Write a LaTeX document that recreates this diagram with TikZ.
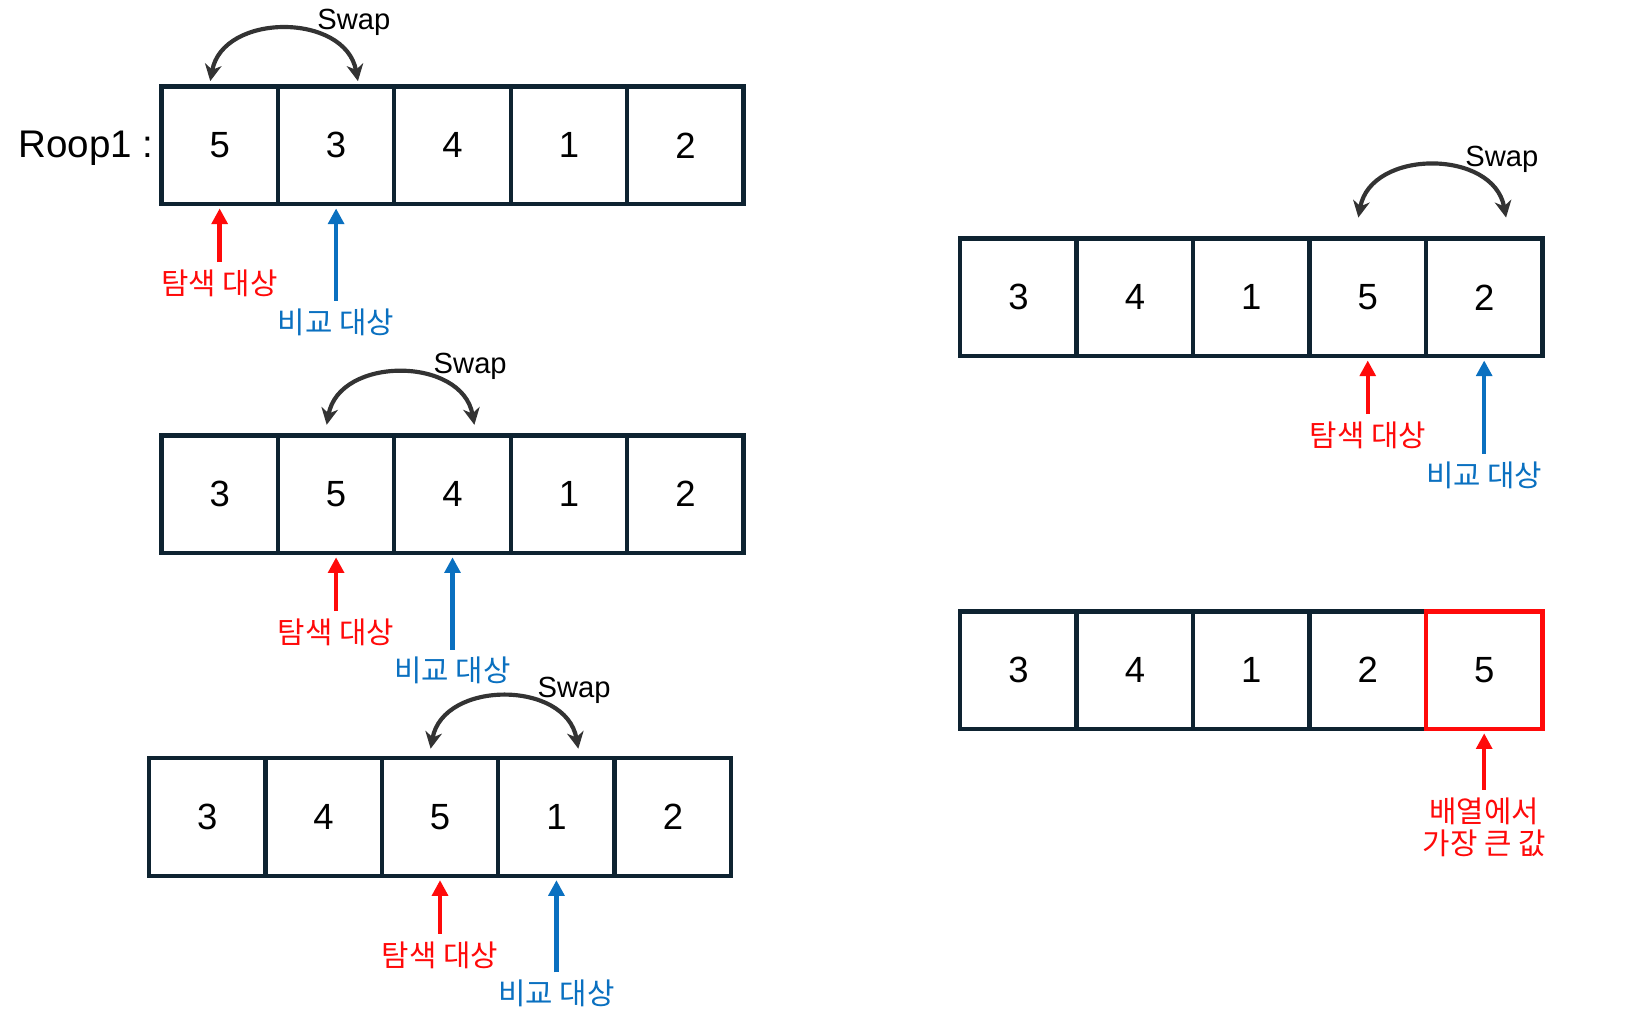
\documentclass[tikz,border=0pt]{standalone}
\usepackage{fontspec}
\setmainfont{Liberation Sans}
\newfontfamily\kr{Noto Sans CJK KR}
\usetikzlibrary{arrows.meta}
\definecolor{navy}{HTML}{0E2331}
\definecolor{arcgray}{HTML}{333333}
\definecolor{redc}{HTML}{FF0A0A}
\definecolor{bluec}{HTML}{0A70C0}
\tikzset{
  cell/.style={draw=navy, line width=2.1pt, minimum width=55.9pt, minimum height=56.5pt, inner sep=0pt, font=\fontsize{17.5}{20}\selectfont},
  swaparc/.style={draw=arcgray, line width=2pt, arrows={Stealth[length=8pt,width=8pt,inset=2.5pt]-Stealth[length=8pt,width=8pt,inset=2.5pt]}},
  swaplbl/.style={font=\fontsize{14}{16}\selectfont, inner sep=0pt},
  lbl/.style={font=\kr\fontsize{14.3}{17}\selectfont, inner sep=3.5pt},
  redptr/.style={draw=redc, line width=2.1pt, -{Triangle[length=7.5pt,width=7.5pt]}, shorten >=1pt},
  blueptr/.style={draw=bluec, line width=2.1pt, -{Triangle[length=7.5pt,width=7.5pt]}, shorten >=1pt},
}
\newcommand\mkrow[4]{%
  \foreach \v [count=\i] in {#4} {\node[cell] (#1\i) at ({#2+55.9+(\i-1)*111.8},{#3+56.5}) {\v};}}
\newcommand\swapmark[4]{%
  \draw[swaparc] ([xshift=-4.5pt,yshift=#3]#1.north) coordinate (#4l) .. controls +(12,-66) and +(-12,-66) .. ([xshift=10.5pt,yshift=#3]#2.north) coordinate (#4r);
  \node[swaplbl] (#4s) at ([xshift=-2pt,yshift=28pt]#4r) {Swap};}
\newcommand\pointer[5]{%
  \node[lbl, text=#2c] (#5) at ([yshift=-#3]#1.south) {#4};
  \draw[#2ptr] (#5.north) -- (#1.south);}
\begin{document}
\begin{tikzpicture}[x=0.5pt,y=-0.5pt]
\path[use as bounding box] (0,0) rectangle (1568,994);
% Row A
\mkrow{A}{155}{83}{5,3,4,1,2}
\node[anchor=base east, font=\fontsize{18.5}{21}\selectfont, inner sep=0pt] (roop) at ([xshift=-2.5pt]A1.base west) {Roop1 :};
\swapmark{A1}{A2}{1.5pt}{sa}
\pointer{A1}{red}{37pt}{탐색 대상}{tA}
\pointer{A2}{blue}{55.5pt}{비교 대상}{bA}
% Row B
\mkrow{B}{155}{418}{3,5,4,1,2}
\swapmark{B2}{B3}{4pt}{sb}
\pointer{B2}{red}{37pt}{탐색 대상}{tB}
\pointer{B3}{blue}{55.5pt}{비교 대상}{bB}
% Row C
\mkrow{C}{143}{728}{3,4,5,1,2}
\swapmark{C3}{C4}{3.5pt}{sc}
\pointer{C3}{red}{37pt}{탐색 대상}{tC}
\pointer{C4}{blue}{55.5pt}{비교 대상}{bC}
% Row D
\mkrow{D}{922}{229}{3,4,1,5,2}
\swapmark{D4}{D5}{9pt}{sd}
\pointer{D4}{red}{37pt}{탐색 대상}{tD}
\pointer{D5}{blue}{56pt}{비교 대상}{bD}
% Row E
\mkrow{E}{922}{587}{3,4,1,2}
\node[cell, draw=redc] (E5) at ({922+55.9+4*111.8},{587+56.5}) {5};
\node[lbl, text=redc, align=center, font=\kr\fontsize{14.3}{15.5}\selectfont] (tE) at ([yshift=-46pt]E5.south) {배열에서\\가장 큰 값};
\draw[redptr] (tE.north) -- (E5.south);
\end{tikzpicture}
\end{document}
